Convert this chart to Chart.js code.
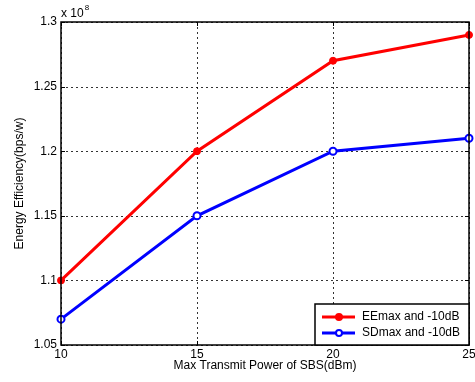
<!DOCTYPE html>
<html><head><meta charset="utf-8">
<script src="https://cdn.jsdelivr.net/npm/chart.js@4/dist/chart.umd.min.js"></script>
<style>html,body{margin:0;padding:0;background:#fff}#wrap{width:475px;height:382px}</style>
</head><body><div id="wrap"><canvas id="c" width="475" height="382"></canvas></div>
<script>
const powers = [10, 15, 20, 25];
const eeMax = [1.10, 1.20, 1.27, 1.29];
const sdMax = [1.07, 1.15, 1.20, 1.21];
const xTicks = [10, 15, 20, 25];
const yTicks = [1.05, 1.1, 1.15, 1.2, 1.25, 1.3];
const seriesLabels = ['EEmax and -10dB', 'SDmax and -10dB'];
const FONT = 'Liberation Sans, Arial, sans-serif';

const decor = {
  id: 'decor',
  beforeDatasetsDraw(chart) {
    const {ctx, chartArea: a, scales} = chart;
    ctx.save();
    ctx.strokeStyle = 'rgba(0,0,0,0.8)'; ctx.lineWidth = 1; ctx.setLineDash([2, 3]);
    scales.x.ticks.forEach(t => {
      const x = Math.round(scales.x.getPixelForValue(t.value)) + 0.5;
      ctx.beginPath(); ctx.moveTo(x, a.top); ctx.lineTo(x, a.bottom); ctx.stroke();
    });
    scales.y.ticks.forEach(t => {
      const y = Math.round(scales.y.getPixelForValue(t.value)) + 0.5;
      ctx.beginPath(); ctx.moveTo(a.left, y); ctx.lineTo(a.right, y); ctx.stroke();
    });
    ctx.setLineDash([]);
    ctx.strokeStyle = '#000';
    scales.y.ticks.forEach(t => {
      const y = Math.round(scales.y.getPixelForValue(t.value)) + 0.5;
      ctx.beginPath(); ctx.moveTo(a.left, y); ctx.lineTo(a.left + 4, y);
      ctx.moveTo(a.right, y); ctx.lineTo(a.right - 4, y); ctx.stroke();
    });
    scales.x.ticks.forEach(t => {
      const x = Math.round(scales.x.getPixelForValue(t.value)) + 0.5;
      ctx.beginPath(); ctx.moveTo(x, a.bottom); ctx.lineTo(x, a.bottom - 4);
      ctx.moveTo(x, a.top); ctx.lineTo(x, a.top + 4); ctx.stroke();
    });
    ctx.restore();
  },
  afterDraw(chart) {
    const {ctx, chartArea: a} = chart;
    ctx.save();
    ctx.strokeStyle = '#000'; ctx.lineWidth = 1.5;
    ctx.strokeRect(a.left, a.top, a.right - a.left, a.bottom - a.top);
    ctx.fillStyle = '#000'; ctx.textBaseline = 'alphabetic'; ctx.textAlign = 'left';
    ctx.font = '12px ' + FONT;
    ctx.fillText('x 10', a.left, a.top - 5);
    const w = ctx.measureText('x 10').width;
    ctx.font = '8px ' + FONT;
    ctx.fillText('8', a.left + 1 + w, a.top - 12);
    const lx = 315, ly = 304, lw = a.right - lx, lh = a.bottom - ly;
    ctx.fillStyle = '#fff';
    ctx.fillRect(lx, ly, lw, lh);
    ctx.strokeStyle = '#000'; ctx.lineWidth = 1.5;
    ctx.strokeRect(lx, ly, lw, lh);
    chart.data.datasets.forEach((ds, i) => {
      const y = ly + 13 + i * 16;
      ctx.strokeStyle = ds.borderColor; ctx.lineWidth = 3;
      ctx.beginPath(); ctx.moveTo(322, y); ctx.lineTo(355, y); ctx.stroke();
      ctx.beginPath(); ctx.arc(339, y, 3, 0, Math.PI * 2);
      ctx.fillStyle = ds.pointBackgroundColor; ctx.fill();
      ctx.lineWidth = 2; ctx.strokeStyle = ds.pointBorderColor; ctx.stroke();
      ctx.fillStyle = '#000'; ctx.font = '12px ' + FONT;
      ctx.textBaseline = 'middle'; ctx.textAlign = 'left';
      ctx.fillText(ds.label, 362, y);
    });
    ctx.restore();
  }
};

new Chart(document.getElementById('c'), {
  type: 'line',
  data: {
    datasets: [
      { label: seriesLabels[0], data: powers.map((x, i) => ({x, y: eeMax[i]})),
        borderColor: '#ff0000', borderWidth: 3, pointRadius: 3.5,
        pointBackgroundColor: '#ff0000', pointBorderColor: '#ff0000', pointBorderWidth: 1,
        clip: false, tension: 0 },
      { label: seriesLabels[1], data: powers.map((x, i) => ({x, y: sdMax[i]})),
        borderColor: '#0000ff', borderWidth: 3, pointRadius: 3.5,
        pointBackgroundColor: '#ffffff', pointBorderColor: '#0000ff', pointBorderWidth: 2,
        clip: false, tension: 0 }
    ]
  },
  options: {
    responsive: false, animation: false, devicePixelRatio: 1,
    layout: { padding: { left: 0, right: 5, top: 22, bottom: 0 } },
    plugins: { legend: { display: false }, tooltip: { enabled: false } },
    scales: {
      x: {
        type: 'linear', min: 10, max: 25,
        afterBuildTicks: s => { s.ticks = xTicks.map(v => ({value: v})); },
        afterFit: s => { s.height = 37; s.paddingLeft = 0; s.paddingRight = 0; },
        grid: { display: false, drawTicks: false },
        border: { display: false },
        ticks: { color: '#000', font: { family: FONT, size: 12 }, padding: 2, maxRotation: 0 },
        title: { display: true, text: 'Max Transmit Power of SBS(dBm)', color: '#000',
                 font: { family: FONT, size: 12 }, padding: { top: 0, bottom: 9 } }
      },
      y: {
        type: 'linear', min: 1.05, max: 1.3,
        afterBuildTicks: s => { s.ticks = yTicks.map(v => ({value: v})); },
        afterFit: s => { s.width = 61; s.paddingTop = 0; s.paddingBottom = 0; },
        grid: { display: false, drawTicks: false },
        border: { display: false },
        ticks: { color: '#000', font: { family: FONT, size: 12 }, padding: 4,
                 callback: v => String(+v.toFixed(2)) },
        title: { display: true, text: 'Energy Efficiency(bps/w)', color: '#000',
                 font: { family: FONT, size: 12 }, padding: { top: 12, bottom: 0 } }
      }
    }
  },
  plugins: [decor]
});
</script>
</body></html>
